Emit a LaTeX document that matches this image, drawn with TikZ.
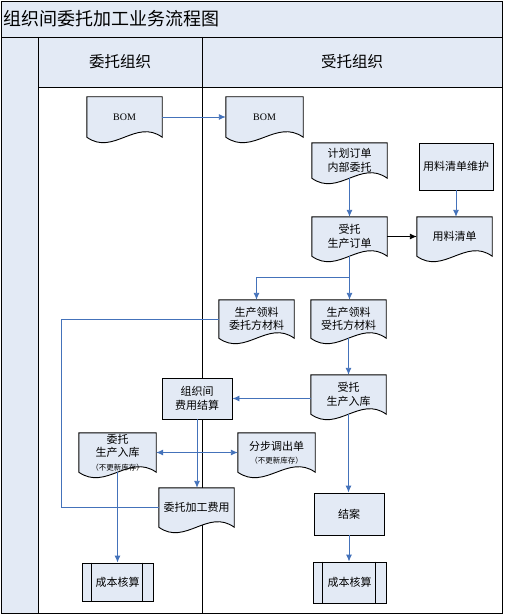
\documentclass[tikz,border=0pt]{standalone}
\usepackage{fontspec}
\setmainfont{Liberation Serif}
\newfontfamily\cjk{Noto Sans CJK SC}
\usetikzlibrary{arrows.meta,calc,backgrounds}
\definecolor{boxfill}{RGB}{227,234,245}
\definecolor{conn}{RGB}{68,114,186}
\newcommand\boxfont{\cjk\fontsize{11}{13.5}\selectfont}
\newcommand\smallnote{\cjk\fontsize{7.5}{9.5}\selectfont}
\tikzset{
 docnode/.style={rectangle, minimum width=75pt, minimum height=39pt, inner sep=1pt, align=center, font=\boxfont},
 procnode/.style={rectangle, draw=black, fill=boxfill, line width=0.9pt, minimum width=72pt, minimum height=41pt, inner sep=1pt, align=center, font=\boxfont},
 flow/.style={draw=conn, line width=0.9pt, -{Latex[length=7pt,width=6pt]}},
 flowboth/.style={draw=conn, line width=0.9pt, {Latex[length=7pt,width=6pt]}-{Latex[length=7pt,width=6pt]}},
 flowline/.style={draw=conn, line width=0.9pt},
 blackflow/.style={draw=black, line width=0.9pt, -{Latex[length=7pt,width=6pt]}},
 frameline/.style={draw=black, line width=0.9pt},
 shapeline/.style={fill=boxfill, draw=black, line width=0.9pt},
}
\newcommand\docshape[1]{%
 \begin{scope}[on background layer]
 \filldraw[shapeline] (#1.north west) -- (#1.north east) -- (#1.south east)
  .. controls ($(#1.south east)!0.35!(#1.south west)+(0,-19)$) and ($(#1.south east)!0.65!(#1.south west)+(0,19)$) .. (#1.south west) -- cycle;
 \end{scope}}
\newcommand\predefbars[1]{%
 \draw[frameline] ([xshift=10pt]#1.north west) -- ([xshift=10pt]#1.south west);
 \draw[frameline] ([xshift=-11pt]#1.north east) -- ([xshift=-11pt]#1.south east);}
\begin{document}
\begin{tikzpicture}[x=1pt,y=-1pt]
\useasboundingbox (0,0) rectangle (504,615);
\begin{scope}[on background layer]
 \fill[boxfill] (1,1) rectangle (502,37);
 \fill[boxfill] (1,37) rectangle (38,613);
 \fill[boxfill] (38,37) rectangle (502,87);
 \draw[frameline] (1,1) rectangle (502,613);
 \draw[frameline] (1,37) -- (502,37) (38,37) -- (38,613) (38,87) -- (502,87) (202,37) -- (202,613);
\end{scope}

\node[anchor=west, inner sep=0pt, font=\cjk\fontsize{18}{20}\selectfont] (title) at (3,19) {组织间委托加工业务流程图};
\node[font=\cjk\fontsize{15.5}{18}\selectfont] (laneA) at (120,62) {委托组织};
\node[font=\cjk\fontsize{15.5}{18}\selectfont] (laneB) at (352,62) {受托组织};

% documents
\node[docnode, font=\fontsize{10}{12}\selectfont, minimum height=40pt] (bomL) at (124.5,117) {BOM};
\node[docnode, font=\fontsize{10}{12}\selectfont, minimum width=77pt, minimum height=40pt] (bomR) at (264.5,117) {BOM};
\node[docnode, minimum height=35pt] (jihua) at (349.5,160.5) {计划订单\\内部委托};
\node[docnode] (stdd) at (349.5,236.5) {受托\\生产订单};
\node[docnode] (ylqd) at (454.5,236.5) {用料清单};
\node[docnode, minimum height=38pt] (llW) at (256.5,319) {生产领料\\委托方材料};
\node[docnode, minimum height=38pt] (llS) at (348.5,319) {生产领料\\受托方材料};
\node[docnode] (strk) at (348.5,394.5) {受托\\生产入库};
\node[docnode, minimum width=77pt] (wtrk) at (117.5,452.5) {委托\\生产入库\\{\smallnote（不更新库存）}};
\node[docnode, minimum width=77pt] (fbdc) at (276.5,452.5) {分步调出单\\{\smallnote（不更新库存）}};
\node[docnode] (wtjg) at (196.5,507.5) {委托加工费用};

\foreach \n in {bomL,bomR,jihua,stdd,ylqd,llW,llS,strk,wtrk,fbdc,wtjg} {\docshape{\n}}

% process boxes
\node[procnode, minimum width=74pt, minimum height=47pt] (ylwh) at (456,166.5) {用料清单维护};
\node[procnode, minimum width=70pt] (fyjs) at (197,398.5) {组织间\\费用结算};
\node[procnode, minimum width=70pt, minimum height=42pt] (jiean) at (349,514) {结案};
\node[procnode, minimum width=71pt, minimum height=38pt] (cbL) at (117.5,582) {成本核算};
\node[procnode, minimum width=73pt, minimum height=41pt] (cbR) at (349.5,582.5) {成本核算};
\predefbars{cbL}
\predefbars{cbR}

% connectors
\coordinate (split) at (349.5,277);
\coordinate (leftturn) at (61,507.5);
\draw[flow] (bomL.east) -- (bomR.west);
\draw[flow] (jihua.south) -- (stdd.north);
\draw[flow] (ylwh.south) -- (ylwh.south |- ylqd.north);
\draw[blackflow] (stdd.east) -- (ylqd.west);
\draw[flow] (stdd.south) -- (stdd.south |- llS.north);
\draw[flow] (split) -| (llW.north);
\draw[flowline] (llW.west) -| (leftturn) -- (wtjg.west);
\draw[flow] (llS.south) -- (strk.north);
\draw[flow] (fyjs.east -| strk.west) -- (fyjs.east);
\draw[flow] (fyjs.south) -- (fyjs.south |- wtjg.north);
\draw[flowboth] (wtrk.east) -- (fbdc.west);
\draw[flow] (wtrk.south) -- (cbL.north);
\draw[flow] (strk.south) -- (strk.south |- jiean.north);
\draw[flow] (jiean.south) -- (jiean.south |- cbR.north);
\end{tikzpicture}
\end{document}
